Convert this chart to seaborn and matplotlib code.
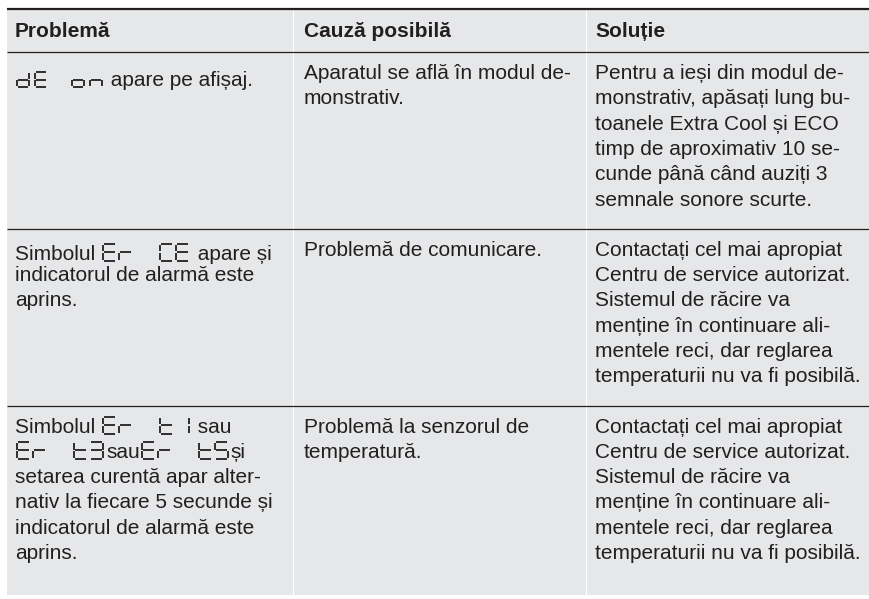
import matplotlib
matplotlib.use("Agg")
import matplotlib.pyplot as plt
import seaborn as sns

# table content
headers = ["Problemă", "Cauză posibilă", "Soluție"]

# problem column: each line is a list of tokens, ("lcd", code) is a 7-segment display code
problems = [
    [[("lcd", "dE on"), " apare pe afișaj."]],
    [["Simbolul ", ("lcd", "Er CE"), " apare și"],
     ["indicatorul de alarmă este"],
     ["aprins."]],
    [["Simbolul ", ("lcd", "Er t1"), " sau"],
     [("lcd", "Er t3"), "sau", ("lcd", "Er t5"), "și"],
     ["setarea curentă apar alter-"],
     ["nativ la fiecare 5 secunde și"],
     ["indicatorul de alarmă este"],
     ["aprins."]],
]

causes = [
    ["Aparatul se află în modul de-", "monstrativ."],
    ["Problemă de comunicare."],
    ["Problemă la senzorul de", "temperatură."],
]

solutions = [
    ["Pentru a ieși din modul de-", "monstrativ, apăsați lung bu-",
     "toanele Extra Cool și ECO", "timp de aproximativ 10 se-",
     "cunde până când auziți 3", "semnale sonore scurte."],
    ["Contactați cel mai apropiat", "Centru de service autorizat.",
     "Sistemul de răcire va", "menține în continuare ali-",
     "mentele reci, dar reglarea", "temperaturii nu va fi posibilă."],
    ["Contactați cel mai apropiat", "Centru de service autorizat.",
     "Sistemul de răcire va", "menține în continuare ali-",
     "mentele reci, dar reglarea", "temperaturii nu va fi posibilă."],
]

# which segments are lit for each display character
SEGMENTS = {
    "d": "bcdeg", "E": "adefg", "o": "cdeg", "n": "ceg", "r": "eg",
    "C": "adef", "t": "defg", "1": "bc", "3": "abcdg", "5": "acdfg",
}

sns.set_theme(style="white")
plt.rcParams["font.family"] = ["Liberation Sans", "DejaVu Sans"]

INK = "#231f20"
BG = "#e6e7e8"
FS = 15
W, H = 870, 599

fig = plt.figure(figsize=(W / 100, H / 100), dpi=100)
ax = fig.add_axes([0, 0, 1, 1])
ax.set_xlim(0, W)
ax.set_ylim(H, 0)
ax.axis("off")
fig.patch.set_facecolor("white")
renderer = fig.canvas.get_renderer()

left, right = 7, 869
col_x = [7, 293, 586]
pad = [8, 11, 9]
top = 9
header_h = 43
pitch = 25.3
first = 27
lcd_shift = [7, 4, 0]
lcd_style = [dict(h=15, w=12, step=18, blank=37), dict(h=17, w=13, step=16, blank=41),
             dict(h=17, w=13, step=16, blank=41)]

# row heights
row_tops = [top + header_h]
for i in range(len(problems)):
    n_lcd = sum(1 for ln in problems[i] if any(isinstance(t, tuple) for t in ln))
    n = max(len(problems[i]), len(causes[i]), len(solutions[i]))
    extra = 13 if n_lcd > 1 else 0
    row_tops.append(row_tops[-1] + n * pitch + 25 + extra)
bottom = row_tops[-1]

ax.add_patch(plt.Rectangle((left, top), right - left, bottom - top, color=BG, lw=0, zorder=0))
for cx in col_x[1:]:
    ax.plot([cx, cx], [top, bottom], color="white", lw=0.8, zorder=1)
ax.plot([left, right], [top, top], color=INK, lw=1.6, zorder=2, solid_capstyle="butt")
for y in row_tops[:-1]:
    ax.plot([left, right], [y, y], color=INK, lw=0.9, zorder=2, solid_capstyle="butt")

# header
for j, txt in enumerate(headers):
    ax.text(col_x[j] + pad[j], top + 28, txt, fontsize=FS, fontweight="bold",
            color=INK, va="baseline", ha="left")


def text_width(t):
    return t.get_window_extent(renderer).width


def draw_lcd(code, x, base, h=17, w=13, step=16, blank=41):
    # draws a 7-segment code, returns right edge
    g = 0.9
    base = base + 1
    y0 = base - h
    ym = base - h / 2
    for ch in code:
        if ch == " ":
            x += blank - step
            continue
        segs = {
            "a": ([x + g, x + w - g], [y0, y0]),
            "b": ([x + w, x + w], [y0 + g, ym - g]),
            "c": ([x + w, x + w], [ym + g, base - g]),
            "d": ([x + g, x + w - g], [base, base]),
            "e": ([x, x], [ym + g, base - g]),
            "f": ([x, x], [y0 + g, ym - g]),
            "g": ([x + g, x + w - g], [ym, ym]),
        }
        for s in SEGMENTS[ch]:
            xs, ys = segs[s]
            ax.plot(xs, ys, color=INK, lw=1.3, solid_capstyle="butt", zorder=3)
        x += step
    return x - step + w


for i in range(len(problems)):
    rt = row_tops[i]
    # problem column with inline display codes
    for k_line, line in enumerate(problems[i]):
        x = col_x[0] + pad[0]
        has_lcd = any(isinstance(t, tuple) for t in line)
        b = rt + first + k_line * pitch + (lcd_shift[i] if has_lcd else 0)
        for tok in line:
            if isinstance(tok, tuple):
                x = draw_lcd(tok[1], x + 2, b, **lcd_style[i]) + 3
            else:
                t = ax.text(x, b, tok, fontsize=FS, color=INK, va="baseline", ha="left")
                x += text_width(t)
    for j, lines in ((1, causes[i]), (2, solutions[i])):
        for k, txt in enumerate(lines):
            ax.text(col_x[j] + pad[j], rt + first + k * pitch, txt, fontsize=FS,
                    color=INK, va="baseline", ha="left")

fig.savefig("out.png", dpi=100, facecolor="white")
